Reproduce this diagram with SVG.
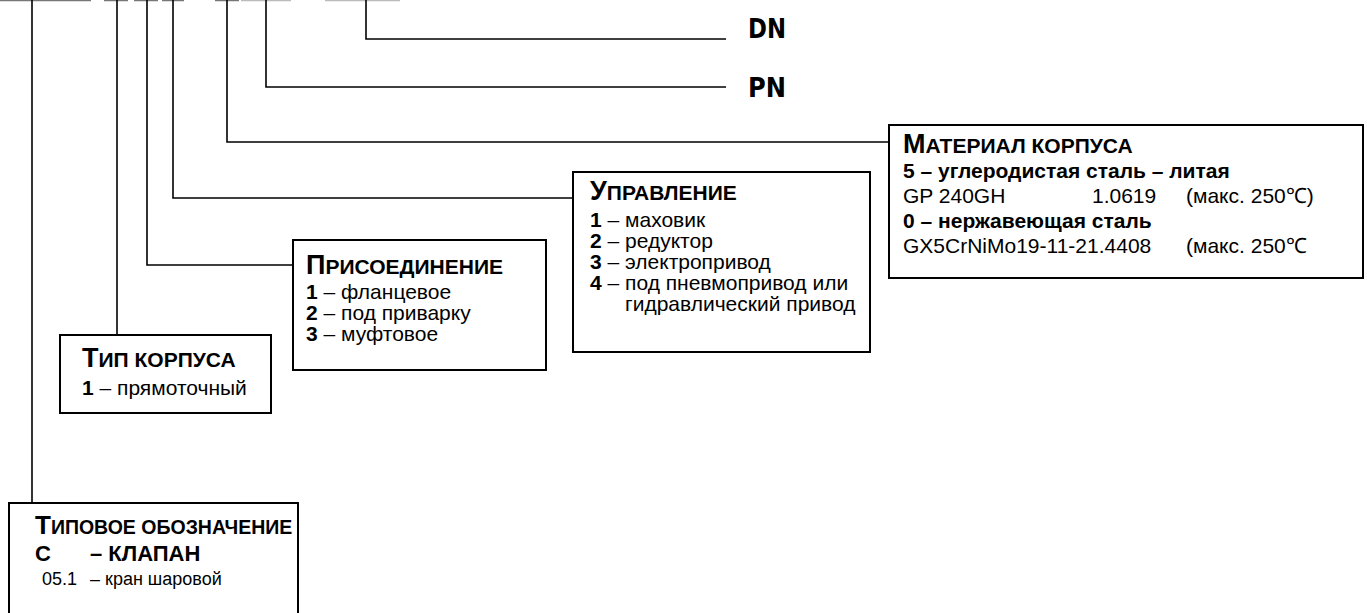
<svg xmlns="http://www.w3.org/2000/svg" width="1367" height="613" viewBox="0 0 1367 613">
<style>
.box{fill:#fff;stroke:#000;stroke-width:2}
.ln{fill:none;stroke:#000;stroke-width:1.6}
.stub{stroke:#777;stroke-width:1.5}
.stubl{stroke:#bbb;stroke-width:1.5}
text{font-family:"Liberation Sans",Arial,sans-serif;fill:#000}
.t1{font-size:27px;font-weight:bold}
.t2{font-size:21px;font-weight:bold}
.b{font-size:21px}
.bb{font-size:21px;font-weight:bold}
.s1{font-size:26px;font-weight:bold}
.s2{font-size:19.5px;font-weight:bold}
.big{font-size:22px;font-weight:bold}
.sm{font-size:18px}
.code{font-family:"DejaVu Sans Condensed","DejaVu Sans",sans-serif;font-size:27px;font-weight:bold}
</style>
<rect width="1367" height="613" fill="#fff"/>
<g id="stubs">
<line class="stub" x1="0" y1="0.5" x2="91" y2="0.5"/>
<line class="stub" x1="104" y1="0.5" x2="128" y2="0.5"/>
<line class="stub" x1="134" y1="0.5" x2="158" y2="0.5"/>
<line class="stub" x1="162" y1="0.5" x2="184" y2="0.5"/>
<line class="stub" x1="215" y1="0.5" x2="239" y2="0.5"/>
<line class="stubl" x1="241" y1="0.5" x2="291" y2="0.5"/>
<line class="stubl" x1="325" y1="0.5" x2="400" y2="0.5"/>
</g>
<g id="connectors">
<path class="ln" d="M32,0 V503"/>
<path class="ln" d="M117,0 V335"/>
<path class="ln" d="M147,0 V265 H293"/>
<path class="ln" d="M173,0 V198 H573"/>
<path class="ln" d="M227,0 V142 H889"/>
<path class="ln" d="M266,0 V87 H726"/>
<path class="ln" d="M366,0 V39 H726"/>
</g>
<g id="dn"><text class="code" x="748" y="38" textLength="38" lengthAdjust="spacingAndGlyphs">DN</text></g>
<g id="pn"><text class="code" x="748" y="97" textLength="38" lengthAdjust="spacingAndGlyphs">PN</text></g>
<g id="material">
<rect class="box" x="889" y="125" width="474" height="153"/>
<text x="903" y="153"><tspan class="t1">М</tspan><tspan class="t2">АТЕРИАЛ КОРПУСА</tspan></text>
<text class="bb" x="903" y="178">5 – углеродистая сталь – литая</text>
<text class="b" x="903" y="203">GP 240GH</text>
<text class="b" x="1092" y="203">1.0619</text>
<text class="b" x="1186" y="203">(макс. 250℃)</text>
<text class="bb" x="903" y="228">0 – нержавеющая сталь</text>
<text class="b" x="903" y="253">GX5CrNiMo19-11-21.4408</text>
<text class="b" x="1186" y="253">(макс. 250℃</text>
</g>
<g id="upravlenie">
<rect class="box" x="573" y="172" width="297" height="180"/>
<text x="590" y="200"><tspan class="t1">У</tspan><tspan class="t2">ПРАВЛЕНИЕ</tspan></text>
<text class="b" x="590" y="227"><tspan class="bb">1</tspan> – маховик</text>
<text class="b" x="590" y="248"><tspan class="bb">2</tspan> – редуктор</text>
<text class="b" x="590" y="269"><tspan class="bb">3</tspan> – электропривод</text>
<text class="b" x="590" y="290"><tspan class="bb">4</tspan> – под пневмопривод или</text>
<text class="b" x="625" y="311">гидравлический привод</text>
</g>
<g id="prisoedinenie">
<rect class="box" x="293" y="240" width="253" height="130"/>
<text x="306" y="274"><tspan class="t1">П</tspan><tspan class="t2">РИСОЕДИНЕНИЕ</tspan></text>
<text class="b" x="306" y="299"><tspan class="bb">1</tspan> – фланцевое</text>
<text class="b" x="306" y="320"><tspan class="bb">2</tspan> – под приварку</text>
<text class="b" x="306" y="341"><tspan class="bb">3</tspan> – муфтовое</text>
</g>
<g id="tip">
<rect class="box" x="60" y="335" width="211" height="78"/>
<text x="82" y="367"><tspan class="t1">Т</tspan><tspan class="t2">ИП КОРПУСА</tspan></text>
<text class="b" x="82" y="395"><tspan class="bb">1</tspan> – прямоточный</text>
</g>
<g id="tipovoe">
<rect class="box" x="9" y="503" width="289" height="130"/>
<text x="35" y="534"><tspan class="s1">Т</tspan><tspan class="s2">ИПОВОЕ ОБОЗНАЧЕНИЕ</tspan></text>
<text class="big" x="35" y="561">С</text>
<text class="big" x="90" y="561">– КЛАПАН</text>
<text class="sm" x="42" y="585">05.1</text>
<text class="sm" x="90" y="585">– кран шаровой</text>
</g>
</svg>
